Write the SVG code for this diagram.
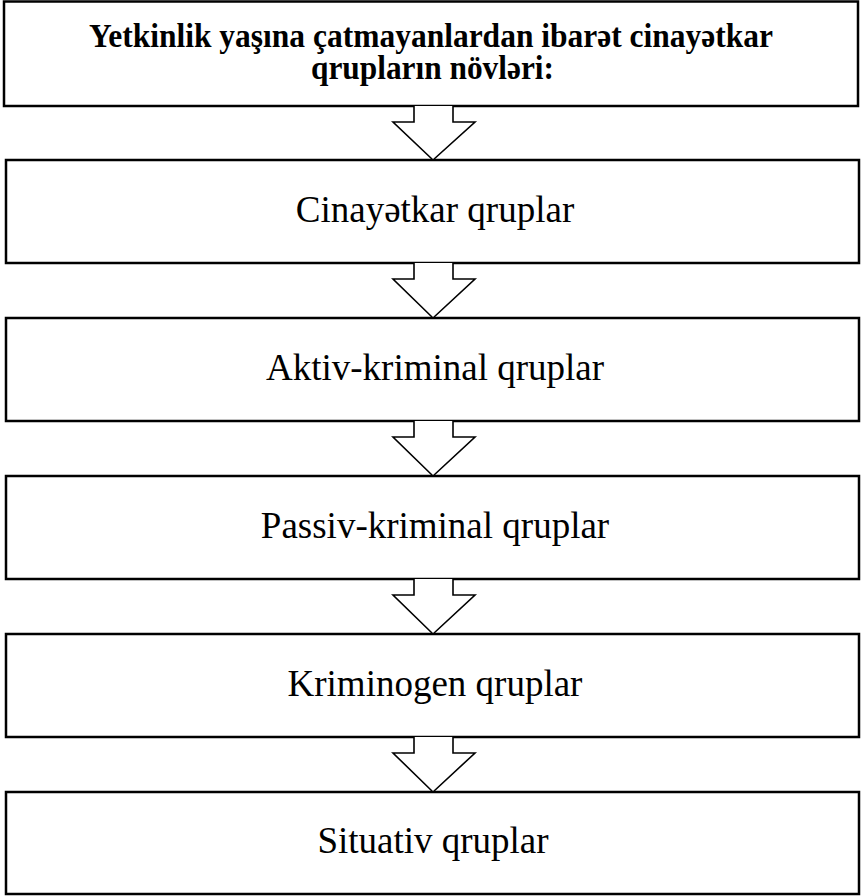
<svg xmlns="http://www.w3.org/2000/svg" width="861" height="896" viewBox="0 0 861 896">
<style>
.box{fill:#fff;stroke:#000;stroke-width:2.5}
.arr{fill:#fff;stroke:#000;stroke-width:1.6;stroke-linejoin:miter}
.t{font-family:"Liberation Serif","Times New Roman",serif;font-size:37px;fill:#000;text-anchor:middle}
.h{font-family:"Liberation Serif","Times New Roman",serif;font-size:33px;font-weight:bold;fill:#000;text-anchor:middle}
</style>
<g id="n0"><rect class="box" x="4" y="1.5" width="854" height="104.5"/>
<text class="h" x="431" y="47" textLength="684" lengthAdjust="spacingAndGlyphs">Yetkinlik yaşına çatmayanlardan ibarət cinayətkar</text>
<text class="h" x="432.5" y="79" textLength="243" lengthAdjust="spacingAndGlyphs">qrupların növləri:</text></g>
<g id="n1"><rect class="box" x="6" y="160" width="853" height="103"/><text class="t" x="435" y="222">Cinayətkar qruplar</text></g>
<g id="n2"><rect class="box" x="6" y="318" width="853" height="103"/><text class="t" x="435" y="380">Aktiv-kriminal qruplar</text></g>
<g id="n3"><rect class="box" x="6" y="476" width="853" height="103"/><text class="t" x="435" y="538">Passiv-kriminal qruplar</text></g>
<g id="n4"><rect class="box" x="6" y="634" width="853" height="103"/><text class="t" x="435" y="696">Kriminogen qruplar</text></g>
<g id="n5"><rect class="box" x="6" y="792" width="853" height="102"/><text class="t" x="433" y="853">Situativ qruplar</text></g>
<g id="connectors">
<path class="arr" d="M414,106 V122 H393 L433,160 L475,122 H453 V106"/>
<path class="arr" d="M414,263 V279 H393 L433,318 L475,279 H453 V263"/>
<path class="arr" d="M414,421 V437 H393 L433,476 L475,437 H453 V421"/>
<path class="arr" d="M414,579 V595 H393 L433,634 L475,595 H453 V579"/>
<path class="arr" d="M414,737 V753 H393 L433,792 L475,753 H453 V737"/>
</g>
</svg>
